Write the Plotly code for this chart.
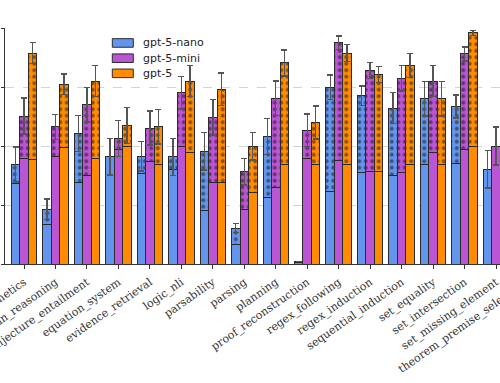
import plotly.graph_objects as go

categories = ["arithmetics", "bayesian_reasoning", "conjecture_entailment", "equation_system",
              "evidence_retrieval", "logic_nli", "parsability", "parsing", "planning",
              "proof_reconstruction", "regex_following", "regex_induction", "sequential_induction",
              "set_equality", "set_intersection", "set_missing_element", "theorem_premise_selection"]

models = ["gpt-5-nano", "gpt-5-mini", "gpt-5"]

nano_solid = [0.342, 0.166, 0.347, 0.454, 0.384, 0.400, 0.225, 0.084, 0.281, 0.005, 0.309, 0.387, 0.374, 0.422, 0.426, 0.402, 0.300]
nano_total = [0.422, 0.232, 0.553, 0.454, 0.457, 0.454, 0.478, 0.152, 0.540, 0.010, 0.749, 0.713, 0.661, 0.700, 0.667, 0.402, 0.400]
nano_err = [0.074, 0.044, 0.077, 0.077, 0.063, 0.078, 0.079, 0.019, 0.077, 0.000, 0.052, 0.042, 0.066, 0.073, 0.049, 0.080, 0.070]

mini_solid = [0.447, 0.457, 0.374, 0.487, 0.433, 0.496, 0.347, 0.229, 0.323, 0.447, 0.437, 0.394, 0.389, 0.473, 0.484, 0.500, 0.400]
mini_total = [0.627, 0.581, 0.675, 0.532, 0.576, 0.726, 0.622, 0.391, 0.702, 0.567, 0.938, 0.819, 0.787, 0.775, 0.890, 0.500, 0.550]
mini_err = [0.076, 0.053, 0.074, 0.077, 0.072, 0.069, 0.076, 0.056, 0.073, 0.069, 0.028, 0.034, 0.054, 0.066, 0.030, 0.080, 0.070]

full_solid = [0.443, 0.494, 0.447, 0.496, 0.422, 0.471, 0.347, 0.302, 0.422, 0.422, 0.422, 0.391, 0.422, 0.422, 0.498, 0.550, 0.450]
full_total = [0.894, 0.761, 0.775, 0.587, 0.581, 0.775, 0.740, 0.499, 0.852, 0.599, 0.894, 0.803, 0.842, 0.700, 0.979, 0.550, 0.650]
full_err = [0.045, 0.044, 0.066, 0.076, 0.073, 0.066, 0.069, 0.059, 0.055, 0.070, 0.035, 0.035, 0.051, 0.073, 0.010, 0.070, 0.070]

colors = ["#6495ED", "#BA55D3", "#FF8C00"]
solids = [nano_solid, mini_solid, full_solid]
totals = [nano_total, mini_total, full_total]
errs = [nano_err, mini_err, full_err]

W, H = 500, 383
ML, MR, MT, MB = 5, 0, 27.5, 118.7
PW, PH = W - ML - MR, H - MT - MB

BAR_W = 0.27
offsets = [-BAR_W, 0.0, BAR_W]
XR = [-0.604, 15.126]
EDGE = "#2a2a2a"
LABEL_STANDOFF = 3

fig = go.Figure()
idx = list(range(len(categories)))
for m, name in enumerate(models):
    xs = [i + offsets[m] for i in idx]
    fig.add_trace(go.Bar(
        x=xs, y=solids[m], width=BAR_W, name=name,
        marker=dict(color=colors[m], line=dict(color=EDGE, width=1)),
        showlegend=False,
    ))
for m, name in enumerate(models):
    xs = [i + offsets[m] for i in idx]
    extra = [t - s for t, s in zip(totals[m], solids[m])]
    fig.add_trace(go.Bar(
        x=xs, y=extra, width=BAR_W, name=name,
        marker=dict(color=colors[m], line=dict(color=EDGE, width=1),
                    pattern=dict(shape=".", fgcolor="#111111", size=6.5, solidity=0.3)),
        error_y=dict(type="data", array=errs[m], visible=True, color="#555555",
                     thickness=1.4, width=3),
        showlegend=False,
    ))


def px_to_paper(px, py):
    return (px - ML) / PW, (H - MB - py) / PH


# legend drawn as swatches + labels
leg_rows = [42.5, 57.8, 73.0]
for m, name in enumerate(models):
    x0, y0 = px_to_paper(112.3, leg_rows[m] - 4.3)
    x1, y1 = px_to_paper(133.3, leg_rows[m] + 4.3)
    fig.add_shape(type="rect", xref="paper", yref="paper", x0=x0, x1=x1, y0=y1, y1=y0,
                  fillcolor=colors[m], line=dict(color=EDGE, width=1))
    tx, ty = px_to_paper(140.5, leg_rows[m])
    fig.add_annotation(x=tx, y=ty, xref="paper", yref="paper", text=name, showarrow=False,
                       xanchor="left", yanchor="middle",
                       font=dict(family="DejaVu Sans", size=11, color="#222"))

fig.update_layout(
    width=W, height=H,
    margin=dict(l=ML, r=MR, t=MT, b=MB),
    barmode="stack",
    plot_bgcolor="white", paper_bgcolor="white",
    showlegend=False,
)
fig.update_xaxes(
    range=XR, tickmode="array", tickvals=idx, ticktext=categories,
    tickangle=-35, ticks="outside", ticklen=3.5, tickcolor="#333",
    tickfont=dict(family="DejaVu Serif", size=11, color="#333"),
    ticklabeloverflow="allow", ticklabelstandoff=LABEL_STANDOFF,
    showline=True, linecolor="#333", linewidth=1, showgrid=False, zeroline=False,
    automargin=False,
)
fig.update_yaxes(
    range=[0, 1], dtick=0.25, tick0=0, ticks="outside", ticklen=3.5, tickcolor="#333",
    showticklabels=False, showline=True, linecolor="#333", linewidth=1,
    showgrid=True, gridcolor="#d4d4d4", griddash="dash", gridwidth=0.8,
    zeroline=False, automargin=False,
)

# label of the last category, whose tick lies beyond the visible right edge
last = len(categories) - 1
lx = ML + (last - XR[0]) / (XR[1] - XR[0]) * PW + 4
ax, ay = px_to_paper(lx, H - MB + 11)
fig.add_annotation(
    x=ax, y=ay, xref="paper", yref="paper",
    text=categories[last], showarrow=False, textangle=-35,
    xanchor="right", yanchor="top",
    font=dict(family="DejaVu Serif", size=11, color="#333"),
)

fig.write_html("out.html", config={"displayModeBar": False},
               post_script="document.body.style.margin='0px';document.body.style.overflow='hidden';")
